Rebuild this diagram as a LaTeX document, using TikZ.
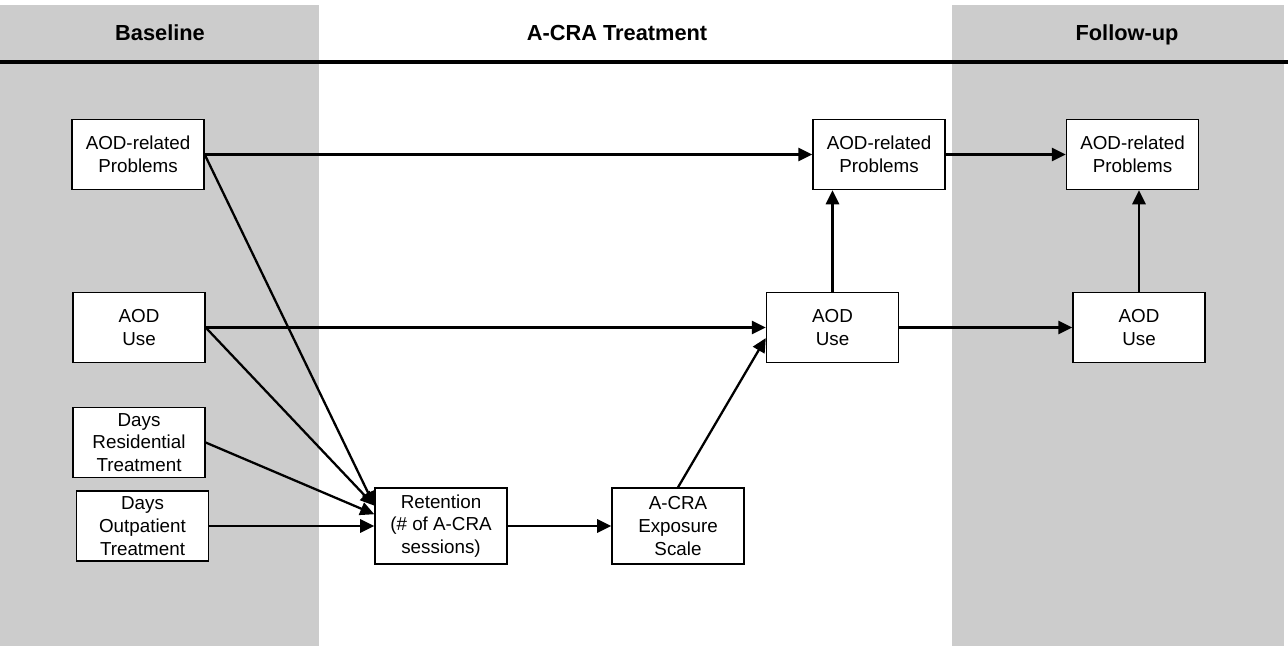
\documentclass[tikz,border=0pt]{standalone}
\usepackage{fontspec}
\setmainfont{Liberation Sans}
\usetikzlibrary{arrows.meta}
\definecolor{panelgray}{RGB}{204,204,204}
\begin{document}
\begin{tikzpicture}[
    var/.style = {draw, line width=0.8pt, fill=white, align=center,
                  minimum width=2.64cm, minimum height=1.4cm, inner sep=1pt,
                  font=\fontsize{10.7}{13}\selectfont},
    tall/.style = {var, minimum height=1.52cm},
    path/.style = {line width=1.3pt, -{Triangle[length=8pt,width=7.5pt]}},
    head/.style = {anchor=base, font=\fontsize{12.4}{14}\selectfont\bfseries}
]
    \useasboundingbox (0,0) rectangle (25.76,-12.92);

    % Panels and header
    \fill[panelgray] (0,-0.1) rectangle (6.38,-12.92);
    \fill[panelgray] (19.04,-0.1) rectangle (25.68,-12.92);
    \draw[line width=1.8pt] (0,-1.24) -- (25.76,-1.24);
    \node[head] (baseline) at (3.2,-0.8) {Baseline};
    \node[head] (treatment) at (12.34,-0.8) {A-CRA Treatment};
    \node[head] (followup) at (22.54,-0.8) {Follow-up};

    % Nodes with manual coordinates
    \node[var] (bprob) at (2.76,-3.09) {AOD-related\\Problems};
    \node[var] (buse) at (2.78,-6.55) {AOD\\Use};
    \node[var] (bres) at (2.78,-8.85) {Days\\Residential\\Treatment};
    \node[var] (bout) at (2.85,-10.52) {Days\\Outpatient\\Treatment};
    \node[tall] (ret) at (8.82,-10.52) {Retention\\(\# of A-CRA\\sessions)};
    \node[tall] (expo) at (13.56,-10.52) {A-CRA\\Exposure\\Scale};
    \node[var] (tprob) at (17.58,-3.09) {AOD-related\\Problems};
    \node[var] (tuse) at (16.65,-6.55) {AOD\\Use};
    \node[var] (fprob) at (22.65,-3.09) {AOD-related\\Problems};
    \node[var] (fuse) at (22.78,-6.55) {AOD\\Use};

    % Edges
    \draw[path] (bprob.east) -- (tprob.west);
    \draw[path] (buse.east) -- (tuse.west);
    \draw[path] (bprob.east) -- (ret.163);
    \draw[path] (buse.east) -- (ret.163);
    \draw[path] (bres.east) -- (ret.170);
    \draw[path] (bout.east) -- (ret.west);
    \draw[path] (ret.east) -- (expo.west);
    \draw[path] (expo.north) -- (tuse.189);
    \draw[path] (tuse.north) -- (tuse.north |- tprob.south);
    \draw[path] (tprob.east) -- (fprob.west);
    \draw[path] (tuse.east) -- (fuse.west);
    \draw[path] (fuse.north) -- (fuse.north |- fprob.south);
\end{tikzpicture}
\end{document}
